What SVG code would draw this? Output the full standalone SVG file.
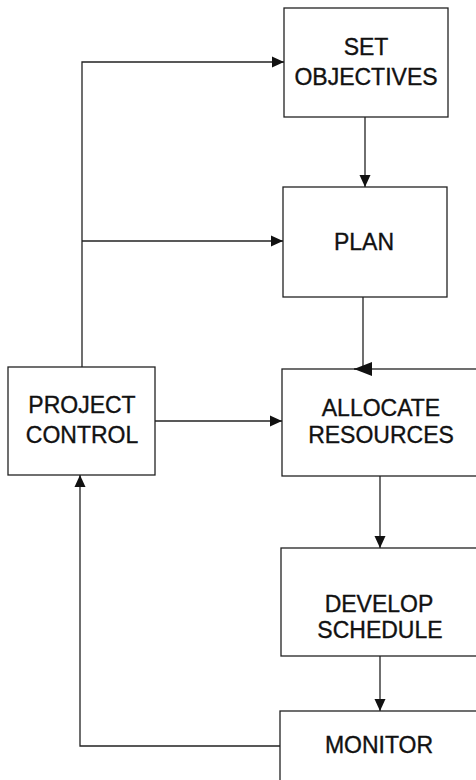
<svg xmlns="http://www.w3.org/2000/svg" width="476" height="780" viewBox="0 0 476 780">
<style>
.box{fill:#fff;stroke:#222;stroke-width:1.3}
.txt{font-family:"Liberation Sans",Arial,sans-serif;font-size:23px;fill:#111;stroke:#111;stroke-width:0.35;text-anchor:middle}
.ln{fill:none;stroke:#222;stroke-width:1.3}
</style>
<defs>
<marker id="ah" markerUnits="userSpaceOnUse" markerWidth="14" markerHeight="12" refX="12" refY="6" orient="auto">
<path d="M0,0.5 L12,6 L0,11.5 Z" fill="#111"/>
</marker>
<marker id="ahb" markerUnits="userSpaceOnUse" markerWidth="20" markerHeight="16" refX="18" refY="8" orient="auto">
<path d="M0,1 L18,8 L0,15 Z" fill="#111"/>
</marker>
</defs>
<g id="set-objectives">
<rect class="box" x="284" y="8" width="164" height="109"/>
<text class="txt" x="366" y="55">SET</text>
<text class="txt" x="366" y="85">OBJECTIVES</text>
</g>
<g id="plan">
<rect class="box" x="283" y="187" width="164" height="110"/>
<text class="txt" x="364" y="250">PLAN</text>
</g>
<g id="project-control">
<rect class="box" x="8" y="367" width="147" height="108"/>
<text class="txt" x="82" y="413">PROJECT</text>
<text class="txt" x="82" y="443">CONTROL</text>
</g>
<g id="allocate-resources">
<rect class="box" x="282" y="369" width="200" height="107"/>
<text class="txt" x="381" y="416">ALLOCATE</text>
<text class="txt" x="381" y="443">RESOURCES</text>
</g>
<g id="develop-schedule">
<rect class="box" x="281" y="548" width="200" height="108"/>
<text class="txt" x="379" y="612">DEVELOP</text>
<text class="txt" x="380" y="638">SCHEDULE</text>
</g>
<g id="monitor">
<rect class="box" x="280" y="711" width="200" height="80"/>
<text class="txt" x="379" y="753">MONITOR</text>
</g>
<g id="connectors">
<path class="ln" d="M365,117 V187" marker-end="url(#ah)"/>
<path class="ln" d="M363,297 V369 H354" marker-end="url(#ahb)"/>
<path class="ln" d="M380,476 V548" marker-end="url(#ah)"/>
<path class="ln" d="M380,656 V711" marker-end="url(#ah)"/>
<path class="ln" d="M82,367 V62 H284" marker-end="url(#ah)"/>
<path class="ln" d="M82,241 H283" marker-end="url(#ah)"/>
<path class="ln" d="M155,421 H282" marker-end="url(#ah)"/>
<path class="ln" d="M280,746 H80 V475" marker-end="url(#ah)"/>
</g>
</svg>
